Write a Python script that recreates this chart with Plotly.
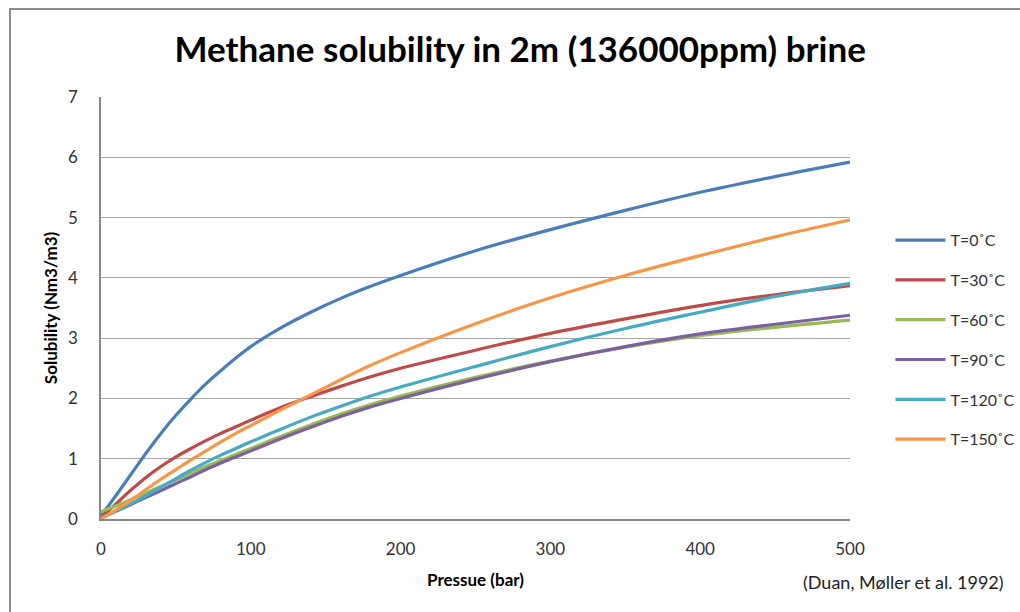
import plotly.graph_objects as go

pressure = [0, 10, 20, 30, 40, 50, 60, 70, 80, 90, 100, 120, 140, 160, 180, 200, 250, 300, 350, 400, 450, 500]

sol_0 = [0.05, 0.39, 0.74, 1.09, 1.42, 1.72, 1.99, 2.24, 2.46, 2.67, 2.86, 3.17, 3.43, 3.66, 3.86, 4.04, 4.45, 4.80, 5.12, 5.42, 5.68, 5.92]
sol_30 = [0.03, 0.25, 0.48, 0.69, 0.87, 1.03, 1.17, 1.30, 1.42, 1.53, 1.64, 1.85, 2.03, 2.20, 2.36, 2.50, 2.80, 3.08, 3.32, 3.54, 3.72, 3.87]
sol_60 = [0.12, 0.22, 0.32, 0.43, 0.54, 0.65, 0.76, 0.87, 0.97, 1.07, 1.17, 1.37, 1.56, 1.74, 1.90, 2.04, 2.35, 2.62, 2.85, 3.04, 3.18, 3.30]
sol_90 = [0.02, 0.13, 0.24, 0.36, 0.47, 0.59, 0.70, 0.82, 0.93, 1.03, 1.13, 1.33, 1.52, 1.70, 1.86, 2.00, 2.32, 2.61, 2.86, 3.07, 3.23, 3.38]
sol_120 = [0.02, 0.13, 0.25, 0.39, 0.53, 0.67, 0.81, 0.94, 1.06, 1.17, 1.28, 1.49, 1.69, 1.87, 2.04, 2.19, 2.53, 2.86, 3.16, 3.43, 3.69, 3.91]
sol_150 = [0.00, 0.15, 0.31, 0.49, 0.66, 0.82, 0.98, 1.13, 1.28, 1.42, 1.55, 1.81, 2.06, 2.31, 2.55, 2.76, 3.24, 3.67, 4.04, 4.37, 4.68, 4.96]

series_names = ["T=0˚C", "T=30˚C", "T=60˚C", "T=90˚C", "T=120˚C", "T=150˚C"]
series_values = [sol_0, sol_30, sol_60, sol_90, sol_120, sol_150]
colors = ["#4A7EBB", "#BE4B48", "#98B954", "#7D60A0", "#46AAC5", "#F79646"]

fig = go.Figure()
for name, vals, c in zip(series_names, series_values, colors):
    fig.add_trace(go.Scatter(x=pressure, y=vals, name=name, mode="lines", legendgroup=name,
                             line=dict(color=c, width=3.2, shape="spline", smoothing=1.0)))

font_main = "Lato, 'Open Sans', sans-serif"

fig.update_layout(
    width=1020, height=612,
    margin=dict(l=101, r=170, t=97, b=93, autoexpand=False),
    paper_bgcolor="white", plot_bgcolor="white",
    title=dict(text="<b>Methane solubility in 2m (136000ppm) brine</b>",
               x=0.51, xanchor="center", y=0.919, yanchor="middle", automargin=False,
               font=dict(family=font_main, size=35, color="black")),
    font=dict(family=font_main, color="#333333"),
    legend=dict(x=1.054, y=0.701, xanchor="left", yanchor="top",
                font=dict(size=16, color="#333333"),
                tracegroupgap=16, itemwidth=50, bgcolor="rgba(0,0,0,0)"),
    showlegend=True,
)
fig.update_xaxes(range=[0, 500], tickvals=[0, 100, 200, 300, 400, 500], automargin=False,
                 showgrid=False, showline=True, linecolor="#888888", linewidth=1.5,
                 zeroline=False, ticks="", ticklabelstandoff=14,
                 tickfont=dict(size=17, color="#333333"),
                 title=dict(text="<b>Pressue (bar)</b>", font=dict(size=17, color="black"), standoff=16))
fig.update_yaxes(range=[0, 7], dtick=1, showgrid=True, gridcolor="#A6A6A6", gridwidth=1.2,
                 showline=True, linecolor="#888888", linewidth=1.5, zeroline=False, automargin=False,
                 ticks="", ticklabelstandoff=18,
                 tickfont=dict(size=17, color="#333333"),
                 title=dict(text="<b>Solubility (Nm3/m3)</b>", font=dict(size=17, color="black"), standoff=6))

fig.add_annotation(text="(Duan, Møller et al. 1992)", xref="paper", yref="paper",
                   x=(1006 - 101) / 749, y=(519 - 582) / 422, xanchor="right", yanchor="middle",
                   showarrow=False, font=dict(family=font_main, size=18, color="#222222"))

fig.add_shape(type="rect", xref="paper", yref="paper",
              x0=(10 - 101) / 749, x1=(1030 - 101) / 749,
              y0=(519 - 625) / 422, y1=(519 - 9) / 422,
              line=dict(color="#8C8C8C", width=2), fillcolor="rgba(0,0,0,0)", layer="below")

fig.write_html("out.html", config={"displayModeBar": False},
               post_script="document.body.style.margin='0px';")
